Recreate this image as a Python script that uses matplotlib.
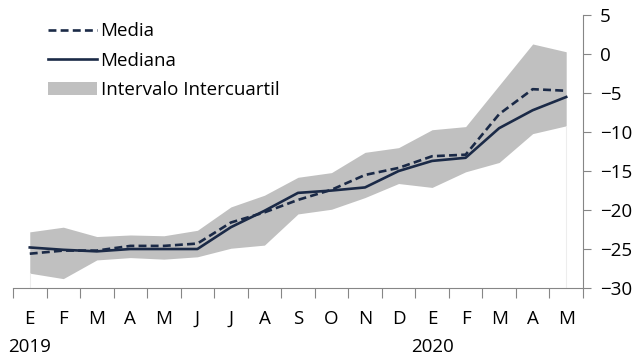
import numpy as np
import matplotlib.pyplot as plt
from matplotlib.patches import Patch
from matplotlib.lines import Line2D

plt.rcParams['font.family'] = ['Open Sans', 'DejaVu Sans']

# Data
months = ['E', 'F', 'M', 'A', 'M', 'J', 'J', 'A', 'S', 'O', 'N', 'D',
          'E', 'F', 'M', 'A', 'M']
years = ['2019', '2020']
year_start = [0, 12]

media = [-25.6, -25.2, -25.2, -24.6, -24.6, -24.3, -21.6, -20.3, -18.7,
         -17.4, -15.5, -14.6, -13.1, -12.9, -7.7, -4.5, -4.7]
mediana = [-24.8, -25.1, -25.3, -25.0, -25.0, -25.0, -22.2, -20.1, -17.8,
           -17.5, -17.1, -15.0, -13.7, -13.3, -9.5, -7.2, -5.5]
p75 = [-22.8, -22.2, -23.4, -23.2, -23.3, -22.6, -19.6, -18.1, -15.8,
       -15.2, -12.6, -12.0, -9.7, -9.3, -4.0, 1.3, 0.3]
p25 = [-28.1, -28.8, -26.4, -26.1, -26.3, -26.0, -24.9, -24.5, -20.5,
       -19.9, -18.4, -16.6, -17.1, -15.1, -13.9, -10.2, -9.2]

navy = '#1B2A47'
band = '#C0C0C0'
axis_grey = '#868686'
fs = 13.5

x = np.arange(len(months))

fig = plt.figure(figsize=(6.34, 3.6), dpi=100)
ax = fig.add_axes([0.0205, 0.2, 0.899, 0.758])

ax.fill_between(x, p25, p75, color=band, lw=0, zorder=1)
# faint edges of the band down to the axis, as in the original
ax.vlines([x[0], x[-1]], -30, [p25[0], p25[-1]], color='#EDEDED', lw=0.8, zorder=1)
ax.plot(x, mediana, color=navy, lw=1.9, zorder=3)
ax.plot(x, media, color=navy, lw=1.9, ls=(0, (3, 1.6)), zorder=3)

ax.set_xlim(-0.5, len(months) - 0.5)
ax.set_ylim(-30, 5)

ax.yaxis.tick_right()
ax.set_yticks(np.arange(-30, 6, 5))
ax.tick_params(axis='y', direction='out', length=6, width=0.8, color=axis_grey,
               labelsize=fs, pad=6)

ax.set_xticks(x)
ax.set_xticklabels(months)
ax.set_xticks(np.arange(-0.5, len(months), 1), minor=True)
ax.tick_params(axis='x', which='major', length=0, labelsize=fs, pad=16)
ax.tick_params(axis='x', which='minor', direction='out', length=7, width=0.8,
               color=axis_grey)

for s in ['top', 'left']:
    ax.spines[s].set_visible(False)
for s in ['right', 'bottom']:
    ax.spines[s].set_color(axis_grey)
    ax.spines[s].set_linewidth(0.8)

for yr, pos in zip(years, year_start):
    ax.text(pos, -0.215, yr, transform=ax.get_xaxis_transform(),
            ha='center', va='center', fontsize=fs)

handles = [
    Line2D([], [], color=navy, lw=1.9, ls=(0, (3, 1.6))),
    Line2D([], [], color=navy, lw=1.9),
    Patch(facecolor=band, edgecolor='none'),
]
ax.legend(handles, ['Media', 'Mediana', 'Intervalo Intercuartil'],
          loc='upper left', bbox_to_anchor=(0.045, 1.008), frameon=False,
          fontsize=fs, handlelength=2.6, handletextpad=0.2,
          labelspacing=0.6, borderaxespad=0.1)

fig.savefig('out.png', dpi=100)
